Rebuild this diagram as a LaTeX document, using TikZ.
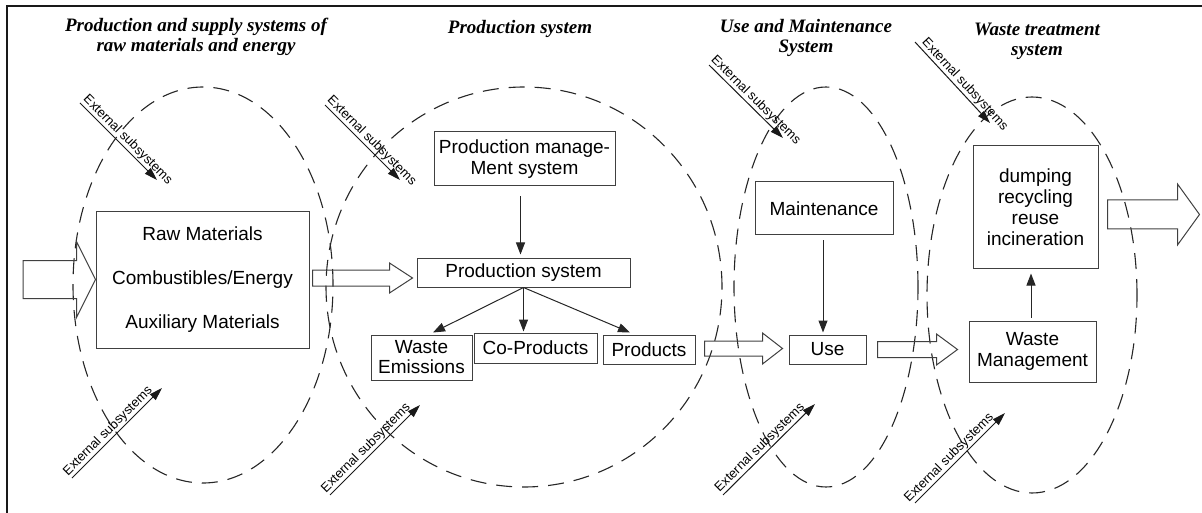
\documentclass[tikz,border=0pt]{standalone}
\usepackage{fontspec}
\setmainfont{Liberation Serif}
\newfontfamily\arialf{Liberation Sans}
\usetikzlibrary{arrows.meta,calc}
\tikzset{
 box/.style={draw=black!75, line width=1pt, inner sep=1pt, align=center, font=\arialf\fontsize{19}{21}\selectfont},
 sysring/.style={draw=black!85, line width=1.1pt, dash pattern=on 16pt off 10pt},
 conn/.style={draw=black!85, line width=1pt, -{Triangle[length=12pt,width=9pt]}},
 extarrow/.style={draw=black!90, line width=1pt, -{Triangle[length=13pt,width=8pt]}},
 extlabel/.style={font=\arialf\fontsize{13}{15}\selectfont, sloped, above, inner sep=1pt},
 blockarrow/.style={draw=black!75, line width=1pt, line join=miter},
 titletext/.style={font=\bfseries\itshape\fontsize{19}{20}\selectfont, align=center},
}
\newcommand{\blockarr}[5]{%
 \draw[blockarrow] let \p1=(#1), \p2=(#2) in
 (\x1,\y1+#3) -- (\x2-#5,\y1+#3) -- (\x2-#5,\y1+#4) -- (\x2,\y1) -- (\x2-#5,\y1-#4) -- (\x2-#5,\y1-#3) -- (\x1,\y1-#3) -- cycle;}
\begin{document}
\begin{tikzpicture}[x=1pt,y=-1pt]
\useasboundingbox (0,0) rectangle (1202,513);
% frame
\draw[line width=2.2pt, black!90] (1202,6) -- (7,6) -- (7,513);
% titles
\node[titletext] (t1) at (196,37) {Production and supply systems of\\raw materials and energy};
\node[titletext] (t2) at (520,29) {Production system};
\node[titletext] (t3) at (806,38) {Use and Maintenance\\System};
\node[titletext] (t4) at (1037,41) {Waste treatment\\system};
% system rings
\draw[sysring] (203,285) ellipse [x radius=130pt, y radius=198pt];
\draw[sysring] (524,287) ellipse [x radius=198pt, y radius=200pt];
\draw[sysring] (826,287) ellipse [x radius=92pt, y radius=200pt];
\draw[sysring] (1032,295) ellipse [x radius=105pt, y radius=198pt];
% boxes
\node[box, minimum width=213, minimum height=136, font=\arialf\fontsize{19}{44}\selectfont] (raw) at (202.5,280) {Raw Materials\\Combustibles/Energy\\Auxiliary Materials};
\node[box, minimum width=181, minimum height=54] (mgmt) at (524.5,159) {Production manage-\\Ment system};
\node[box, minimum width=213, minimum height=29] (prodsys) at (523.5,272.5) {Production system};
\node[box, minimum width=101, minimum height=45, font=\arialf\fontsize{19}{20}\selectfont] (waste) at (421.5,357.5) {Waste\\Emissions};
\node[box, minimum width=123, minimum height=30] (coprod) at (535.5,348) {Co-Products};
\node[box, minimum width=92, minimum height=29] (products) at (649,349.5) {Products};
\node[box, minimum width=138, minimum height=53] (maint) at (824,208.5) {Maintenance};
\node[box, minimum width=77, minimum height=29] (use) at (827.5,349.5) {Use};
\node[box, minimum width=127, minimum height=61] (wm) at (1032.5,351.5) {Waste\\Management};
\node[box, minimum width=125, minimum height=122] (dump) at (1035.5,207) {dumping\\recycling\\reuse\\incineration};
% connectors
\draw[conn] ($(mgmt.south)+(-4,10)$) -- ($(mgmt.south |- prodsys.north)+(-4,-3)$);
\draw[conn] (prodsys.south) -- ($(waste.north)+(11.5,-2)$);
\draw[conn] (prodsys.south) -- ($(prodsys.south |- coprod.north)+(0,-1)$);
\draw[conn] (prodsys.south) -- ($(products.north)+(-19,-2)$);
\draw[conn] ($(maint.south)+(-1,5)$) -- ($(maint.south |- use.north)+(-1,-2)$);
\draw[conn] ($(wm.north)+(-1.5,-3)$) -- ($(wm.north |- dump.south)+(-1.5,5)$);
% block arrows
\coordinate (a1s) at (23,279.5);
\coordinate (a2s) at ($(raw.east)+(3,-2)$);
\coordinate (a2e) at ($(prodsys.west)+(-4,0)$);
\coordinate (a3s) at ($(products.east)+(9,-1)$);
\coordinate (a3e) at ($(use.west)+(-6,0)$);
\coordinate (a4s) at ($(use.east)+(11,0)$);
\coordinate (a4e) at ($(wm.west)+(-11,0)$);
\coordinate (a5s) at ($(dump.east)+(9,7.5)$);
\coordinate (a5e) at ($(dump.east)+(101,0)$);
\blockarr{a1s}{raw.west}{19pt}{38pt}{19pt}
\blockarr{a2s}{a2e}{8pt}{15pt}{23pt}
\blockarr{a3s}{a3e}{7.5pt}{15.5pt}{20pt}
\blockarr{a4s}{a4e}{8pt}{15.5pt}{21pt}
\blockarr{a5s}{a5e}{14.5pt}{30.5pt}{22pt}
% external subsystems
\coordinate (x1s) at (80,103);  \coordinate (x1e) at (157,180);
\coordinate (x2s) at (325,105); \coordinate (x2e) at (400,180);
\coordinate (x3s) at (709,65);  \coordinate (x3e) at (783,138);
\coordinate (x4s) at (915,42);  \coordinate (x4e) at (990,123);
\coordinate (x5s) at (72,478);  \coordinate (x5e) at (162,388);
\coordinate (x6s) at (330,495); \coordinate (x6e) at (420,405);
\coordinate (x7s) at (723,495); \coordinate (x7e) at (815,404);
\coordinate (x8s) at (915,503); \coordinate (x8e) at (1005,413);
\draw[extarrow] (x1s) -- node[extlabel, pos=0.55] {External subsystems} (x1e);
\draw[extarrow] (x2s) -- node[extlabel, pos=0.55] {External subsystems} (x2e);
\draw[extarrow] (x3s) -- node[extlabel, pos=0.56] {External subsystems} (x3e);
\draw[extarrow] (x4s) -- node[extlabel, pos=0.59] {External subsystems} (x4e);
\draw[extarrow] (x5s) -- node[extlabel, pos=0.46] {External subsystems} (x5e);
\draw[extarrow] (x6s) -- node[extlabel, pos=0.46] {External subsystems} (x6e);
\draw[extarrow] (x7s) -- node[extlabel, pos=0.46] {External subsystems} (x7e);
\draw[extarrow] (x8s) -- node[extlabel, pos=0.44] {External subsystems} (x8e);
\end{tikzpicture}
\end{document}
